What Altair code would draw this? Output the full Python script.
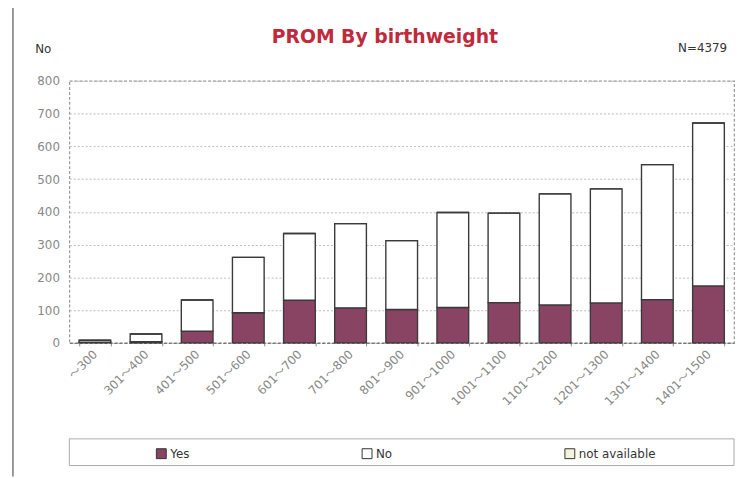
import altair as alt
import pandas as pd

categories = ["～300", "301～400", "401～500", "501～600", "601～700", "701～800",
              "801～900", "901～1000", "1001～1100", "1101～1200", "1201～1300",
              "1301～1400", "1401～1500"]
yes_vals = [2, 4, 36, 92, 130, 107, 102, 108, 123, 116, 122, 132, 174]
no_vals = [6, 23, 95, 169, 204, 257, 210, 290, 273, 339, 348, 412, 497]
na_vals = [0, 0, 0, 0, 0, 0, 0, 0, 0, 0, 0, 0, 0]
series = ["Yes", "No", "not available"]
colors = ["#8a4463", "#ffffff", "#f4f4dc"]
y_ticks = [0, 100, 200, 300, 400, 500, 600, 700, 800]

rows = []
for i, c in enumerate(categories):
    for k, (s, vals) in enumerate(zip(series, [yes_vals, no_vals, na_vals])):
        rows.append({"cat": c, "series": s, "value": vals[i], "ord": k})
df = pd.DataFrame(rows)

FONT = "DejaVu Sans"
LFONT = "DejaVu Sans, Noto Sans CJK JP"
W, H = 672, 265

bars = alt.Chart(df).mark_bar(stroke="#3a3a3a", strokeWidth=1.4).encode(
    x=alt.X("cat:N", sort=categories,
            scale=alt.Scale(paddingInner=0.38, paddingOuter=0.19),
            axis=alt.Axis(title=None, labelAngle=-45, labelAlign="right",
                          labelBaseline="middle", labelColor="#888888",
                          labelFontSize=12, labelFont=LFONT, labelPadding=6,
                          domainColor="#777777", domainDash=[3, 2], domainWidth=1.2,
                          tickBand="extent", tickColor="#888888", tickSize=3,
                          grid=False)),
    y=alt.Y("value:Q", stack="zero",
            scale=alt.Scale(domain=[0, 800], nice=False),
            axis=alt.Axis(values=y_ticks, title="No", titleAngle=0,
                          titleX=-35, titleY=-33, titleAlign="left",
                          titleBaseline="middle", titleFont=FONT,
                          titleFontWeight="normal", titleFontSize=12,
                          titleColor="#333333",
                          labelColor="#888888", labelFontSize=12, labelFont=FONT,
                          labelPadding=10, ticks=False, domain=False,
                          gridColor="#bbbbbb", gridDash=[2, 2], gridWidth=1)),
    color=alt.Color("series:N", scale=alt.Scale(domain=series, range=colors),
                    legend=alt.Legend(title=None, orient="none", legendX=87,
                                      legendY=371, direction="horizontal",
                                      columns=3, columnPadding=172,
                                      symbolType="square", symbolSize=100,
                                      symbolStrokeColor="#333333",
                                      symbolStrokeWidth=1, labelFontSize=12,
                                      labelFont=FONT, labelColor="#333333",
                                      labelOffset=3, padding=0)),
    order=alt.Order("ord:Q"),
)

legend_box = alt.Chart().mark_rect(fill="none", stroke="#aaaaaa", strokeWidth=1).encode(
    x=alt.value(0), x2=alt.value(W), y=alt.value(362), y2=alt.value(389)
)

frame = alt.Chart().mark_rule(color="#777777", strokeWidth=1.5).encode(
    x=alt.value(-57), y=alt.value(-79), y2=alt.value(400)
)

n_text = alt.Chart().mark_text(text="N=4379", align="right", baseline="middle",
                               font=FONT, fontSize=12, color="#333333").encode(
    x=alt.value(665), y=alt.value(-33)
)

title_text = alt.Chart().mark_text(text="PROM By birthweight", align="center",
                                   baseline="middle", font=FONT, fontSize=19,
                                   fontWeight="bold", color="#bf2a3c").encode(
    x=alt.value(319), y=alt.value(-44)
)

chart = alt.layer(frame, legend_box, bars, n_text, title_text).properties(
    width=W, height=H,
    autosize=alt.AutoSizeParams(type="none"),
    padding={"left": 62, "top": 71, "right": 4, "bottom": 134},
).configure_view(stroke="#999999", strokeDash=[3, 2], strokeWidth=1.2)

chart.save("out.html", embed_options={"renderer": "svg", "actions": False})
